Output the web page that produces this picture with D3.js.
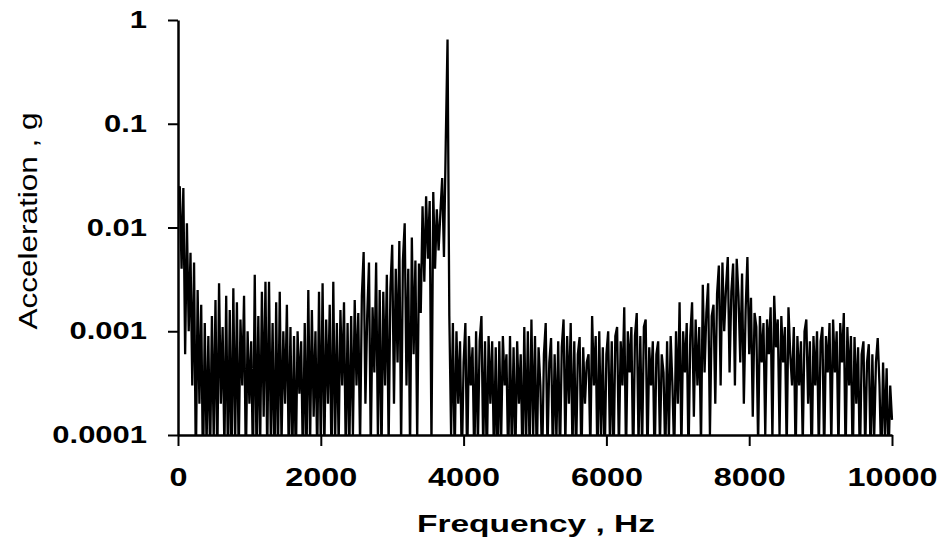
<!DOCTYPE html>
<html>
<head>
<meta charset="utf-8">
<script src="https://cdn.jsdelivr.net/npm/d3@7"></script>
<style>
body { margin: 0; background: #fff; }
.axis path, .axis line { stroke: #000; }
.axis .domain { stroke-width: 2.5; }
.axis .tick line { stroke-width: 2; }
.axis text { fill: #000; font-family: "Liberation Sans", Arial, sans-serif; font-weight: bold; }
.title { font-family: "Liberation Sans", Arial, sans-serif; fill: #000; }
</style>
</head>
<body>
<svg id="chart" width="944" height="547"></svg>
<script>
// spectrum samples every FREQ_STEP Hz, 0..10000 Hz, amplitude in milli-g
var FREQ_STEP = 25;
var accelMg = [
  18, 25, 4, 24, 0.6, 11, 1.0, 5.7, 0.3, 4.6,
  0.05, 2.5, 0.2, 1.8, 0.04, 1.2, 0.08, 0.9, 0.06, 1.4,
  0.09, 2.0, 0.05, 2.9, 0.2, 1.1, 0.07, 2.2, 0.05, 1.6,
  0.05, 2.6, 0.08, 1.9, 0.06, 1.3, 0.3, 2.2, 0.05, 1.0,
  0.2, 0.8, 0.05, 3.5, 0.06, 1.4, 0.07, 2.4, 0.15, 3.0,
  0.06, 3.0, 0.09, 1.2, 0.04, 1.9, 0.06, 2.4, 0.08, 1.0,
  0.2, 1.8, 0.07, 1.1, 0.05, 0.9, 0.05, 1.0, 0.25, 0.8,
  0.05, 1.2, 0.06, 2.5, 0.08, 1.6, 0.15, 1.0, 0.06, 2.4,
  0.07, 2.9, 0.07, 1.3, 0.2, 1.8, 0.05, 3.0, 0.08, 1.2,
  0.08, 1.6, 0.3, 1.9, 0.06, 1.2, 0.07, 1.4, 0.1, 2.0,
  0.3, 1.5, 0.08, 2.2, 5.8, 0.2, 1.4, 4.6, 0.07, 1.7,
  0.4, 4.6, 0.09, 2.5, 0.06, 2.4, 0.3, 3.5, 0.08, 2.6,
  6.8, 0.2, 4.0, 0.5, 7.4, 0.08, 4.8, 11, 0.3, 4.0,
  0.07, 8.0, 0.6, 4.8, 0.09, 4.5, 1.5, 16, 3.0, 20,
  5.0, 18, 0.08, 22, 4.0, 15, 6.0, 14, 30, 5.2,
  65, 650, 1.4, 0.1, 1.2, 0.06, 1.0, 0.2, 0.8, 0.05,
  0.5, 1.2, 0.05, 0.9, 0.3, 0.7, 0.05, 1.0, 0.08, 0.8,
  1.4, 0.07, 0.8, 0.05, 0.9, 0.2, 0.8, 0.06, 0.7, 0.04,
  0.8, 0.08, 0.9, 0.3, 0.6, 0.05, 0.9, 0.07, 0.7, 0.06,
  0.8, 0.2, 0.6, 0.05, 1.1, 0.08, 1.0, 0.06, 1.3, 0.1,
  0.9, 0.05, 0.7, 0.3, 0.05, 0.6, 1.2, 0.07, 0.5, 0.86,
  0.06, 0.6, 0.09, 0.8, 0.06, 0.7, 1.3, 0.08, 0.9, 0.2,
  1.2, 0.07, 0.8, 0.06, 0.6, 0.88, 0.05, 0.7, 0.2, 0.5,
  0.6, 0.07, 1.4, 0.3, 0.9, 0.05, 1.0, 0.09, 0.7, 0.05,
  0.6, 1.0, 0.08, 0.8, 0.05, 0.9, 1.1, 0.07, 0.8, 0.3,
  1.7, 0.06, 1.0, 0.4, 1.1, 0.05, 0.9, 1.5, 0.08, 0.9,
  0.07, 1.1, 1.3, 0.06, 0.7, 0.3, 0.8, 0.05, 0.6, 0.8,
  0.08, 0.6, 0.4, 0.06, 0.8, 0.09, 0.9, 0.3, 0.06, 1.0,
  0.2, 1.9, 0.07, 1.0, 0.4, 1.2, 0.06, 0.9, 1.9, 0.15,
  1.3, 0.3, 1.1, 0.08, 2.8, 0.4, 1.5, 2.9, 0.1, 1.4,
  1.8, 0.2, 2.3, 4.3, 0.3, 4.6, 1.0, 2.6, 5.2, 0.4,
  2.4, 4.5, 0.3, 5.0, 2.2, 0.5, 3.6, 0.2, 1.6, 5.2,
  0.6, 2.1, 0.15, 1.5, 1.1, 0.08, 1.4, 0.5, 1.2, 0.1,
  1.3, 0.6, 1.7, 0.09, 2.2, 0.7, 1.3, 0.1, 1.4, 0.5,
  1.1, 0.07, 1.7, 0.6, 0.3, 1.1, 0.06, 0.9, 0.3, 0.8,
  0.08, 1.0, 1.3, 0.2, 0.8, 0.05, 0.9, 0.3, 1.0, 0.07,
  0.8, 1.1, 0.06, 0.9, 0.4, 1.2, 0.08, 1.3, 0.4, 1.0,
  0.07, 1.2, 0.5, 1.5, 0.06, 1.1, 0.3, 0.9, 0.05, 0.88,
  0.2, 0.7, 0.05, 0.6, 0.8, 0.07, 0.5, 0.75, 0.06, 0.6,
  0.09, 0.5, 0.86, 0.3, 0.05, 0.5, 0.1, 0.44, 0.05, 0.3,
  0.14
];

var xTicks = [0, 2000, 4000, 6000, 8000, 10000];
var yTicks = [0.0001, 0.001, 0.01, 0.1, 1];
var yTickLabels = ["0.0001", "0.001", "0.01", "0.1", "1"];

var margin = {top: 20, right: 52, bottom: 112, left: 178},
    width = 944 - margin.left - margin.right,
    height = 547 - margin.top - margin.bottom;

var svg = d3.select("#chart"),
    g = svg.append("g").attr("transform", "translate(" + margin.left + "," + margin.top + ")");

var x = d3.scaleLinear().domain([0, 10000]).range([0, width]);
var y = d3.scaleLog().domain([0.0001, 1]).range([height, 0]);

svg.append("defs").append("clipPath").attr("id", "plot-clip")
  .append("rect").attr("x", 0).attr("y", -5).attr("width", width + 2).attr("height", height + 5);

var line = d3.line()
    .x(function(d, i) { return x(i * FREQ_STEP); })
    .y(function(d) { return y(d / 1000); });

g.append("path")
    .datum(accelMg)
    .attr("clip-path", "url(#plot-clip)")
    .attr("fill", "none")
    .attr("stroke", "#000")
    .attr("stroke-width", 2.3)
    .attr("d", line);

// the source picture is stretched sideways, so widen text to match
function stretch(sel, k) {
  sel.each(function() {
    var w = this.getComputedTextLength();
    d3.select(this).attr("textLength", w * k).attr("lengthAdjust", "spacingAndGlyphs");
  });
}

var yAxis = g.append("g")
    .attr("class", "axis")
    .call(d3.axisLeft(y).tickValues(yTicks)
      .tickFormat(function(d, i) { return yTickLabels[i]; })
      .tickSize(10).tickPadding(21).tickSizeOuter(0));
yAxis.selectAll("text").style("font-size", "24px").call(stretch, 1.29);

var xAxis = g.append("g")
    .attr("class", "axis")
    .attr("transform", "translate(0," + height + ")")
    .call(d3.axisBottom(x).tickValues(xTicks)
      .tickFormat(d3.format("d"))
      .tickSize(11).tickPadding(22).tickSizeOuter(0));
xAxis.selectAll("text").style("font-size", "26px").call(stretch, 1.245);

svg.append("text")
    .attr("class", "title")
    .attr("transform", "translate(37,221) rotate(-90)")
    .attr("text-anchor", "middle")
    .style("font-size", "26px")
    .attr("textLength", 217)
    .attr("lengthAdjust", "spacingAndGlyphs")
    .text("Acceleration , g");

svg.append("text")
    .attr("class", "title")
    .attr("x", margin.left + width / 2 + 1)
    .attr("y", 532)
    .attr("text-anchor", "middle")
    .style("font-size", "24px")
    .style("font-weight", "bold")
    .attr("textLength", 238)
    .attr("lengthAdjust", "spacingAndGlyphs")
    .text("Frequency , Hz");
</script>
</body>
</html>
